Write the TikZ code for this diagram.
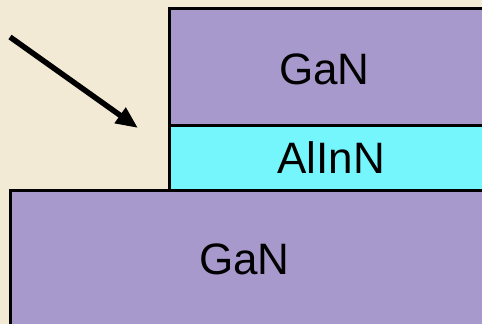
\documentclass[tikz,border=0pt]{standalone}
\usepackage{fontspec}
\setmainfont{Liberation Sans}
\usetikzlibrary{arrows.meta}
\definecolor{bgbeige}{HTML}{F2EAD4}
\definecolor{ganpurple}{HTML}{A899CC}
\definecolor{alncyan}{HTML}{75F6FC}
\tikzset{
  layer/.style={draw=black, line width=3pt},
  lbl/.style={font=\fontsize{44}{52}\selectfont, inner sep=0pt, anchor=base},
  beam/.style={line width=5.5pt, -{Triangle[length=22pt,width=18pt]}}
}
\begin{document}
\begin{tikzpicture}[x=1pt,y=-1pt]
\clip (0,0) rectangle (482,324);
\fill[bgbeige] (0,0) rectangle (482,324);
\draw[layer, fill=ganpurple] (10,190) rectangle (495,335);
\draw[layer, fill=alncyan] (169,125.5) rectangle (495,190);
\draw[layer, fill=ganpurple] (169,8.5) rectangle (495,125.5);
\node[lbl] (gantop) at (324.5,84) {GaN};
\node[lbl] (alinn) at (331,173.5) {AlInN};
\node[lbl] (ganbot) at (244.5,274) {GaN};
\coordinate (beamstart) at (10,37);
\coordinate (beamend) at (138,128);
\draw[beam] (beamstart) -- (beamend);
\end{tikzpicture}
\end{document}
